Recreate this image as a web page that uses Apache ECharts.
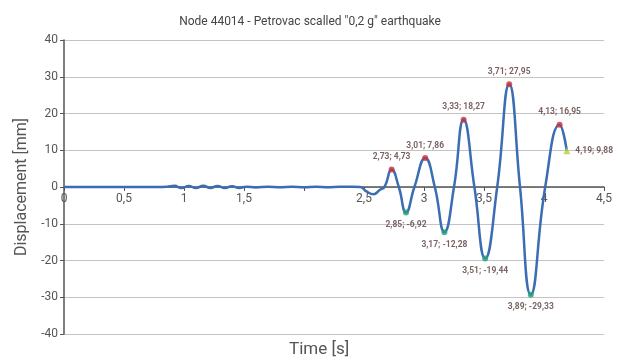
<!DOCTYPE html>
<html>
<head>
<meta charset="utf-8">
<script src="https://cdn.jsdelivr.net/npm/echarts@6/dist/echarts.min.js"></script>
<style>html,body{margin:0;padding:0;background:#fff}#c{width:620px;height:363px}</style>
</head>
<body>
<div id="c"></div>
<script>
// Time [s] and displacement [mm]
const time = [0, 0.2, 0.4, 0.6, 0.8, 0.86, 0.92, 0.98, 1.04, 1.1, 1.16, 1.22, 1.28, 1.34, 1.4, 1.46, 1.52, 1.6, 1.7, 1.8, 1.9, 2.0, 2.1, 2.2, 2.3, 2.4, 2.47, 2.52, 2.58, 2.63, 2.67, 2.73, 2.79, 2.85, 2.92, 3.01, 3.09, 3.17, 3.25, 3.33, 3.42, 3.51, 3.61, 3.71, 3.80, 3.89, 4.01, 4.13, 4.19];
const displacement = [0, 0, 0, 0, 0, 0.1, 0.35, -0.3, 0.3, -0.3, 0.35, -0.25, 0.3, -0.3, 0.2, -0.25, 0.1, -0.15, 0.1, -0.1, 0.1, -0.05, 0.1, -0.05, 0.05, 0.05, 0, -1.2, -2.0, -0.8, 0, 4.73, 0, -6.92, 0, 7.86, 0, -12.28, 0, 18.27, 0, -19.44, 0, 27.95, 0, -29.33, 0, 16.95, 9.88];
const peakTime = [2.73, 3.01, 3.33, 3.71, 4.13];
const peakValue = [4.73, 7.86, 18.27, 27.95, 16.95];
const troughTime = [2.85, 3.17, 3.51, 3.89];
const troughValue = [-6.92, -12.28, -19.44, -29.33];
const endTime = [4.19];
const endValue = [9.88];
const xTicks = ['0', '0,5', '1', '1,5', '', '2,5', '3', '3,5', '4', '4,5'];

const fmt = v => String(v).replace('.', ',');
const pairs = (a, b) => a.map((t, i) => [t, b[i]]);
const lblFmt = p => fmt(p.value[0]) + '; ' + fmt(p.value[1]);
const FONT = 'Roboto, "Noto Sans", sans-serif';
const lbl = (pos) => ({show: true, position: pos, formatter: lblFmt, fontSize: 8.5, fontWeight: 'bold', color: '#5a3c3c', fontFamily: FONT, distance: 5});

const GRID_TOP = 40, GRID_BOTTOM = 29, H = 363;
const chart = echarts.init(document.getElementById('c'));
chart.setOption({
  animation: false,
  title: [
    {text: 'Node 44014 - Petrovac scalled "0,2 g" earthquake', left: 'center', top: 11,
     textStyle: {fontSize: 12, fontWeight: 'normal', color: '#444', fontFamily: FONT}},
    {text: 'Time [s]', left: 284, bottom: 0,
     textStyle: {fontSize: 17, fontWeight: 'normal', color: '#555', fontFamily: FONT}}
  ],
  grid: {left: 64, right: 16, top: GRID_TOP, bottom: GRID_BOTTOM},
  xAxis: {
    type: 'value', min: 0, max: 4.5, interval: 0.5, position: 'bottom',
    offset: -(H - GRID_TOP - GRID_BOTTOM) / 2,
    axisLine: {onZero: false, lineStyle: {color: '#555', width: 1.5}},
    axisTick: {show: true, length: 4, lineStyle: {color: '#555'}},
    axisLabel: {fontSize: 12, color: '#555', fontFamily: FONT, margin: 6,
      formatter: v => xTicks[Math.round(v / 0.5)]},
    splitLine: {show: false}
  },
  yAxis: {
    type: 'value', min: -40, max: 40, interval: 10,
    name: 'Displacement [mm]', nameLocation: 'middle', nameGap: 34,
    nameTextStyle: {fontSize: 16, color: '#555', fontFamily: FONT},
    axisLine: {show: true, onZero: false, lineStyle: {color: '#555', width: 1.5}},
    axisTick: {show: true, length: 4, lineStyle: {color: '#555'}},
    axisLabel: {fontSize: 12, color: '#555', fontFamily: FONT, margin: 6},
    splitLine: {lineStyle: {color: '#c4c4c4', width: 1}}
  },
  series: [
    {type: 'line', data: pairs(time, displacement), smooth: 0.5, showSymbol: false,
     lineStyle: {color: '#3b6db3', width: 2.5}, z: 2},
    {type: 'scatter', data: pairs(peakTime, peakValue), symbolSize: 6,
     itemStyle: {color: '#c8323a'}, label: lbl('top'), z: 3},
    {type: 'scatter', data: pairs(troughTime, troughValue), symbolSize: 6,
     itemStyle: {color: '#22a07a'}, label: lbl('bottom'), z: 3},
    {type: 'scatter', data: pairs(endTime, endValue), symbol: 'triangle', symbolSize: 7,
     itemStyle: {color: '#b6cf3a'}, label: lbl('right'), z: 3}
  ]
});
</script>
</body>
</html>
